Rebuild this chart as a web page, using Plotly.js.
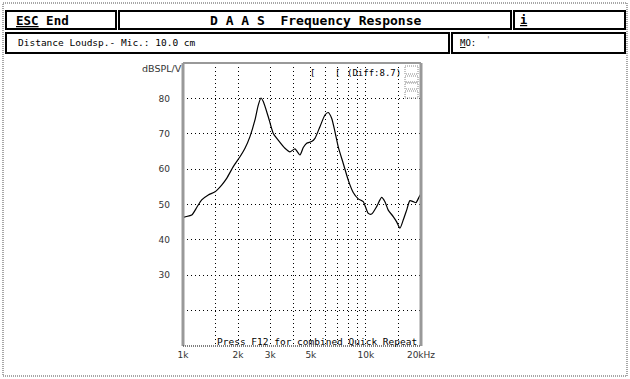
<!DOCTYPE html>
<html><head><meta charset="utf-8">
<script src="https://cdn.plot.ly/plotly-3.0.1.min.js"></script>
<style>html,body{margin:0;padding:0;background:#fff;overflow:hidden}#chart{width:630px;height:379px;}</style>
</head><body><div id="chart"></div>
<script>
// Data
const freqHz = [1000,1025,1116,1193,1265,1375,1496,1627,1733,1883,2049,2182,2323,2474,2579,2669,2747,2925,3115,3318,3609,3843,4093,4359,4544,4742,5050,5264,5606,5970,6223,6495,6769,7058,7516,8004,8523,9078,9667,10295,10743,11442,12184,12700,13240,14100,14720,15340,15990,16690,17390,18140,18760,19560,20000];
const splDb = [46.3,46.5,47.0,49.3,51.3,52.7,53.6,55.5,57.4,60.7,63.5,65.9,69.2,73.9,78.1,80.1,79.1,74.8,70.1,68.2,65.9,64.9,65.7,64.0,66.1,67.3,67.8,68.7,72.0,75.3,76.0,74.4,70.6,66.3,61.6,56.9,53.4,51.6,50.8,47.5,47.3,49.4,52.0,50.8,48.4,46.6,45.1,43.3,45.6,48.4,51.1,50.8,50.5,52.2,53.0];
const xTickVals = [1000,2000,3000,5000,10000,20000];
const xTickText = ['1k','2k','3k','5k','10k','20kHz'];
const xMinorGrid = [1500,4000,6000,7000,8000,9000,15000];
const yTickVals = [20,30,40,50,60,70,80];
const yTickText = ['','30','40','50','60','70','80'];
const yRange = [10,90];
const headerTitle = 'D A A S  Frequency Response';
const headerLeft = '<u>ESC</u> End';
const headerRight = '<u>i</u>';
const infoText = 'Distance Loudsp.- Mic.: 10.0 cm';
const moText = '<u>M</u>O:';
const yUnit = 'dBSPL/V';
const diffText = '(Diff:8.7)';
const footText = 'Press F12 for combined Quick Repeat';

// layout geometry (pixels)
const W=630,H=379,L=183,R=421,T=63,B=346;
const px = x => (x-L)/(R-L);
const py = y => (B-y)/(B-T);
const rect = (x0,y0,x1,y1,line) => ({type:'rect',xref:'paper',yref:'paper',x0:px(x0),x1:px(x1),y0:py(y0),y1:py(y1),line:line,layer:'above'});
const seg = (x0,y0,x1,y1,line) => ({type:'line',xref:'paper',yref:'paper',x0:px(x0),x1:px(x1),y0:py(y0),y1:py(y1),line:line,layer:'above'});
const blk = {color:'#000',width:2};
const mono = 'DejaVu Sans Mono';
const gridDash = '1px,3px';
const note = (text,x,y,size,opts={}) => Object.assign({text:text,xref:'paper',yref:'paper',x:px(x),y:py(y),showarrow:false,xanchor:'left',yanchor:'middle',font:{family:mono,size:size,color:'#000'}},opts);

const shapes = [
  rect(3,3,627,376,{color:'#8a8a8a',width:1.5,dash:'1px,1px'}),
  rect(6,11,116,29,blk), rect(119,11,511,29,blk), rect(514,11,625,29,blk),
  rect(6,33,449,53,blk), rect(452,33,625,53,blk),
  // plot frame
  seg(L,T,L,B,{color:'#999',width:3}),
  seg(R,T,R,B,{color:'#999',width:3}),
  seg(L,T,R,T,{color:'#999',width:2}),
  seg(L,B,R,B,{color:'#555',width:1.5,dash:'1px,1px'}),
  // little legend boxes
  rect(405,66,418,74,{color:'#888',width:1,dash:'1px,1px'}),
  rect(405,76,418,82,{color:'#888',width:1,dash:'1px,1px'}),
  rect(405,83,418,89,{color:'#888',width:1,dash:'1px,1px'}),
  rect(405,91,418,98,{color:'#888',width:1,dash:'1px,1px'})
];
const annotations = [
  note('<b>'+headerLeft+'</b>',14,20,12.5),
  note('<b>'+headerTitle+'</b>',315,20,13,{xanchor:'center'}),
  note('<b>'+headerRight+'</b>',518,20,12),
  note(infoText,16,43,9.5),
  note(moText,458,43,9),
  note("'",484,40,8,{font:{family:mono,size:8,color:'#666'}}),
  note(yUnit,184,68,9.5,{xanchor:'right',font:{family:'DejaVu Sans',size:9.5,color:'#333'}}),
  note('[',308,73,9),
  note('[',333,73,9),
  note(diffText,345,73,9),
  note(footText,215,341,9.5)
];

const trace = {x:freqHz,y:splDb,type:'scatter',mode:'lines',line:{color:'#000',width:1.2,shape:'spline',smoothing:0.6},hoverinfo:'skip'};

const layout = {
  width:W,height:H,margin:{l:L,r:W-R,t:T,b:H-B,pad:0},
  paper_bgcolor:'#fff',plot_bgcolor:'#fff',showlegend:false,
  xaxis:{type:'log',range:[Math.log10(1000),Math.log10(20000)],tickvals:xTickVals,ticktext:xTickText,
    showgrid:true,gridcolor:'#000',griddash:gridDash,gridwidth:1,zeroline:false,showline:false,ticks:'',
    ticklabelstandoff:2,tickfont:{family:'DejaVu Sans',size:9,color:'#333'},
    minor:{tickvals:xMinorGrid,showgrid:true,gridcolor:'#000',griddash:gridDash,gridwidth:1,ticks:''}},
  yaxis:{range:yRange,tickvals:yTickVals,ticktext:yTickText,showgrid:true,gridcolor:'#000',griddash:gridDash,gridwidth:1,
    zeroline:false,showline:false,ticks:'',ticklabelstandoff:12,tickfont:{family:'DejaVu Sans',size:9,color:'#333'}},
  shapes:shapes,annotations:annotations
};
Plotly.newPlot('chart',[trace],layout,{staticPlot:true,displayModeBar:false});
</script></body></html>
